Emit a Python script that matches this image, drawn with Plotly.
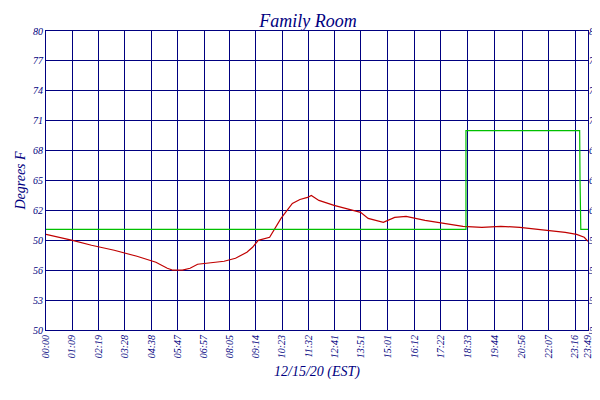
import plotly.graph_objects as go

# time in minutes since midnight, 12/15/20
temp_min = [0, 40, 70, 120, 180, 240, 290, 320, 335, 360, 380, 400, 430, 470, 500, 530, 545, 560,
            590, 620, 650, 670, 690, 700, 720, 760, 800, 830, 850, 870, 890, 920, 950, 1000, 1050,
            1100, 1150, 1200, 1250, 1300, 1340, 1370, 1400, 1420, 1430]
temp_val = [59.6, 59.3, 59.0, 58.5, 58.0, 57.4, 56.8, 56.2, 56.0, 56.0, 56.2, 56.6, 56.7, 56.9, 57.2,
            57.8, 58.3, 59.0, 59.3, 61.2, 62.7, 63.1, 63.3, 63.5, 63.0, 62.5, 62.1, 61.8, 61.2, 61.0,
            60.8, 61.3, 61.4, 61.0, 60.7, 60.4, 60.3, 60.4, 60.3, 60.1, 59.9, 59.8, 59.6, 59.3, 58.9]
setback_min = [0, 1108, 1108, 1408, 1409, 1411, 1430]
setback_val = [60.1, 60.1, 70.0, 70.0, 65.0, 60.1, 60.1]

tick_min = [0, 69, 139, 208, 278, 347, 417, 485, 554, 623, 692, 761, 831, 901, 972, 1042, 1113,
            1184, 1256, 1327, 1396, 1429]
tick_txt = ["00:00", "01:09", "02:19", "03:28", "04:38", "05:47", "06:57", "08:05", "09:14", "10:23",
            "11:32", "12:41", "13:51", "15:01", "16:12", "17:22", "18:33", "19:44", "20:56", "22:07",
            "23:16", "23:49"]
y_ticks = [50, 53, 56, 59, 62, 65, 68, 71, 74, 77, 80]
y_txt = ["50", "53", "56", "50", "62", "65", "68", "71", "74", "77", "80"]

navy = "#000080"
fnt = "Liberation Serif"

fig = go.Figure()
fig.add_trace(go.Scatter(x=temp_min, y=temp_val, mode="lines", name="<i>Family Room</i>",
                         line=dict(color="#c00000", width=1.2)))
fig.add_trace(go.Scatter(x=setback_min, y=setback_val, mode="lines", name="<i>Setback</i>",
                         line=dict(color="#00c000", width=1.2)))
# mirrored y labels on the right
fig.add_trace(go.Scatter(x=[None], y=[None], yaxis="y2", showlegend=False))

fig.update_layout(
    width=600, height=400,
    margin=dict(l=38, r=20, t=23, b=78, autoexpand=False),
    paper_bgcolor="white", plot_bgcolor="white",
    title=dict(text="<i>Family Room</i>", x=0.5, y=0.985, xanchor="center",
               font=dict(family=fnt, size=18, color=navy)),
    font=dict(family=fnt, color=navy),
    xaxis=dict(range=[0, 1430], tickvals=tick_min, ticktext=[f"<i>{t}</i>" for t in tick_txt],
               tickangle=-90, tickfont=dict(size=10), showgrid=True, gridcolor=navy, gridwidth=1,
               zeroline=False, showline=True, linecolor=navy, mirror=True, automargin=False,
               title=dict(text="<i>12/15/20 (EST)</i>", font=dict(size=14), standoff=8)),
    yaxis=dict(range=[50, 80], tickvals=y_ticks, ticktext=[f"<i>{t}</i>" for t in y_txt],
               tickfont=dict(size=10), showgrid=True, gridcolor=navy, gridwidth=1, zeroline=False,
               showline=True, linecolor=navy, mirror=True, automargin=False,
               title=dict(text="<i>Degrees F</i>", font=dict(size=14), standoff=4)),
    yaxis2=dict(range=[50, 80], tickvals=y_ticks, ticktext=[f"<i>{t}</i>" for t in y_txt],
                tickfont=dict(size=10), overlaying="y", side="right", showgrid=False,
                zeroline=False, automargin=False),
    legend=dict(orientation="h", x=0.5, xanchor="center", y=-0.2, yanchor="top",
                font=dict(size=12, color=navy)),
)

fig.write_html("out.html")
